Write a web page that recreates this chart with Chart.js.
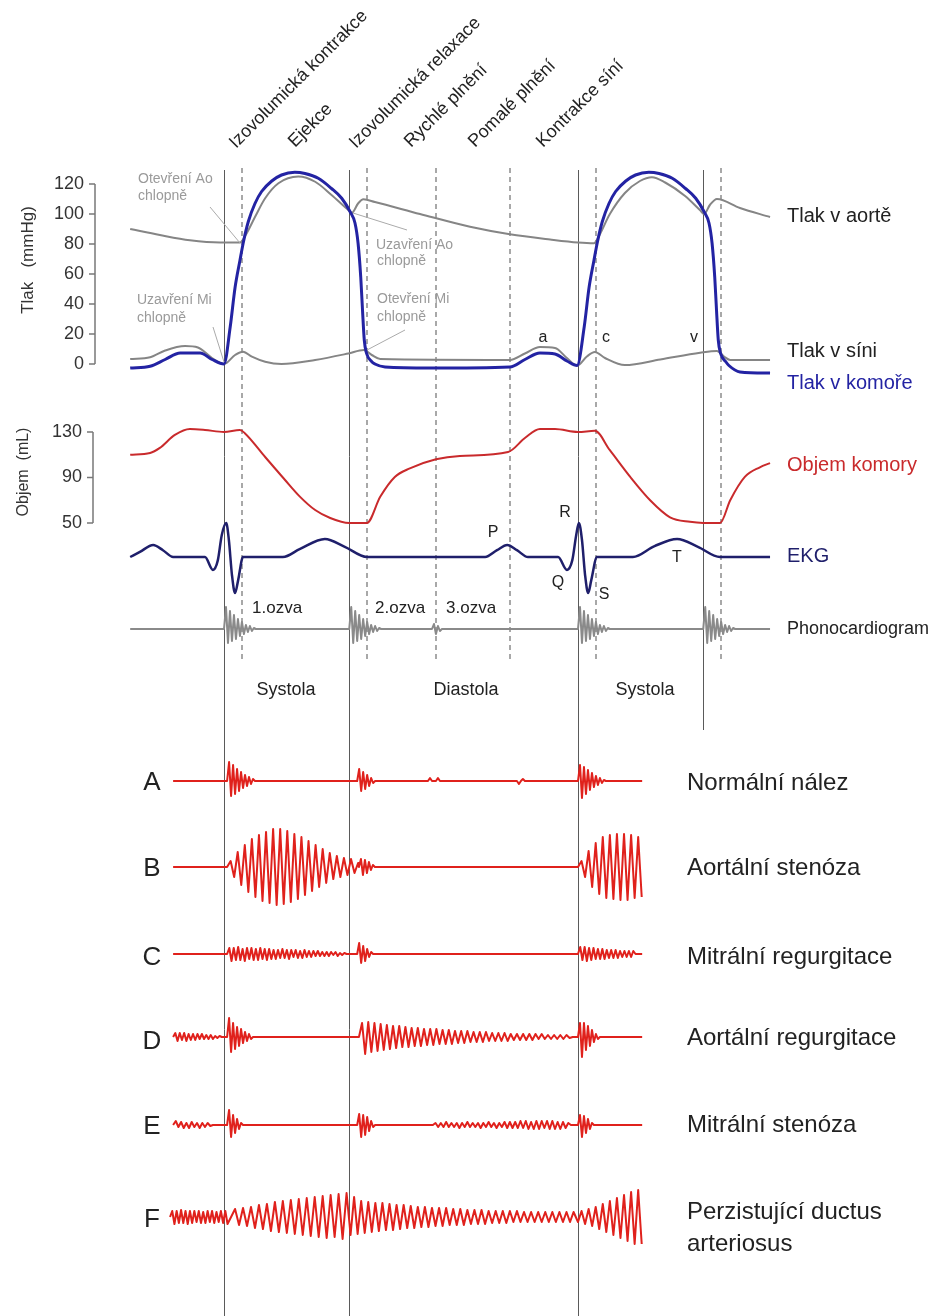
<!DOCTYPE html>
<html>
<head>
<meta charset="utf-8">
<script src="https://cdn.jsdelivr.net/npm/chart.js@4.4.1/dist/chart.umd.min.js"></script>
<style>
  html, body { margin: 0; padding: 0; background: #fff; }
  #wrap { width: 936px; height: 1316px; position: relative; }
</style>
</head>
<body>
<div id="wrap"><canvas id="wiggers"></canvas></div>
<script>
// Wiggersův diagram - čas v ms, t = 0 uzavření mitrální chlopně, cyklus 800 ms
const W = 936, H = 1316;
const FONT = '"Liberation Sans", Arial, sans-serif';

// svislé čáry fází (ms)
const solidLineTimes = [0, 283, 800, 1083];
const dashedLineTimes = [40, 323, 479, 646, 840, 1123];

// tlak v aortě (mmHg)
const aortaTime = [-212, -145, -77, -9, 36, 49, 70, 93, 123, 168, 206, 243, 281, 289, 303, 315, 341, 443, 556, 646, 737, 800, 836, 845, 872, 906, 940, 967, 997, 1042, 1076, 1085, 1098, 1114, 1166, 1234];
const aortaPressure = [90, 86, 82.5, 81, 81, 86, 98, 110.5, 120.5, 125, 121.5, 112.7, 102.7, 100.9, 107, 109.8, 108, 100, 91.5, 86.5, 83, 81, 80.5, 84, 100, 114, 122, 124.5, 121, 112, 102.5, 100, 106, 110, 104, 98];

// tlak v komoře (mmHg)
const ventricleTime = [-212, -167, -133, -99, -54, -27, 0, 14, 25, 36, 44, 55, 70, 85, 108, 130, 160, 183, 213, 243, 266, 285, 296, 303, 309, 313, 317, 322, 334, 341, 364, 466, 646, 680, 714, 748, 775, 798,
                       814, 825, 836, 844, 855, 870, 885, 908, 930, 960, 983, 1013, 1043, 1066, 1085, 1096, 1103, 1109, 1113, 1117, 1122, 1134, 1141, 1166, 1234];
const ventriclePressure = [-2.7, -1.5, 3, 7.3, 7.3, 3, 0, 24.7, 51, 69, 81.5, 95, 107, 115, 122, 126, 127.8, 127, 123.8, 117, 110.5, 101.5, 94, 80.5, 58, 36, 16, 7.3, 1.5, 0, -2, -2.7, -2, 3, 7.3, 6.7, 2, -1,
                           24.7, 51, 69, 81.5, 95, 107, 115, 122, 126, 127.8, 127, 123.8, 117, 110.5, 101.5, 94, 80.5, 58, 36, 16, 7.3, 1.5, -1, -5.3, -6];

// tlak v síni (mmHg)
const atriumTime = [-212, -167, -133, -88, -59, -27, 0, 25, 43, 63, 93, 130, 206, 281, 316, 334, 353, 646, 680, 714, 748, 775, 798, 820, 838, 861, 906, 986, 1076, 1114, 1130, 1144, 1234];
const atriumPressure = [3.3, 4.5, 9, 12, 11, 4, 0, 6, 8.2, 4.9, 1.5, 0, 2.7, 7, 9.3, 6, 3.3, 2.7, 7, 11.3, 10.7, 4, -1, 5, 8, 4, -0.7, 3, 7.5, 8.7, 5, 2.7, 2.7];

// objem komory (mL)
const volumeTime = [-212, -167, -145, -111, -77, -43, 0, 36, 47, 93, 138, 172, 206, 240, 283, 323, 353, 386, 420, 479, 533, 642, 680, 714, 748, 800, 838, 872, 918, 963, 1008, 1053, 1083, 1121, 1144, 1177, 1211, 1234];
const volumeMl = [110, 111.5, 116, 127.4, 132.6, 131.8, 130, 131.8, 129, 108, 87.8, 73, 61.4, 54.4, 50, 50, 73, 90.5, 98, 106, 109, 112.4, 124.7, 132.6, 132.6, 130, 131, 114, 90.5, 70, 55, 51, 50, 50, 70, 90.5, 99, 102.7];

// EKG (mV)
const ekgTime = [-212, -190, -160, -138, -115, -43, -25, -14, -5, 5, 11, 18, 25, 32, 43, 133, 172, 228, 273, 323, 590, 617, 640, 662, 687, 755, 775, 787, 796, 802, 809, 816, 823, 830, 843, 924, 973, 1024, 1071, 1121, 1234];
const ekgMv = [0, 0.15, 0.35, 0.2, 0, 0, -0.38, -0.1, 0.65, 1.0, 0.5, -0.53, -1.06, -0.68, 0, 0, 0.24, 0.53, 0.3, 0, 0, 0.2, 0.35, 0.2, 0, 0, -0.38, -0.1, 0.65, 1.0, 0.5, -0.53, -1.06, -0.68, 0, 0, 0.32, 0.53, 0.3, 0, 0];

// fonokardiogram: ozvy [začátek ms, krok ms, výchylky]
const phonoRange = [-212, 1234];
const phonoBursts = [
  [0, 4.5, [0, 22, -14, 18, -12, 14, -10, 10, -7, 7, -5, 4, -3, 3, -2, 1, 0]],
  [283, 4.5, [0, 22, -14, 18, -12, 14, -10, 10, -7, 7, -5, 4, -3, 3, -2, 1, 0]],
  [470, 4.5, [0, 5, -5, 3, -2, 0]],
  [800, 4.5, [0, 22, -14, 18, -12, 14, -10, 10, -7, 7, -5, 4, -3, 3, -2, 1, 0]],
  [1083, 4.5, [0, 22, -14, 18, -12, 14, -10, 10, -7, 7, -5, 4, -3, 3, -2, 1, 0]]
];

// šelesty A-F: [začátek ms, krok ms, výchylky]
const murmurA = [
  [7, 4.5, [0, 19, -15, 16, -13, 12, -10, 9, -7, 6, -5, 4, -3, 2, 0]],
  [301, 4.5, [0, 12, -10, 9, -8, 6, -5, 3, -2, 0]],
  [461, 4.5, [0, 3, 0, 0, 0, 3, 0]],
  [662, 4.5, [0, -3, 0, 2, 0]],
  [800, 4.5, [0, 16, -17, 14, -13, 11, -9, 8, -6, 5, -4, 3, -2, 1, 0]]
];
const murmurB = [
  [7, 8, [0, 6, -10, 15, -18, 22, -25, 28, -30, 32, -34, 35, -36, 38, -38, 38, -37, 36, -35, 33, -32, 30, -28, 26, -24, 22, -20, 18, -16, 14, -12, 11, -10, 9, -8, 8, -6, 4]],
  [305, 4.5, [0, 8, -8, 7, -6, 5, -3, 2, 0]],
  [800, 8, [0, 6, -10, 16, -20, 24, -27, 30, -31, 32, -32, 33, -33, 33, -33, 32, -31, 30, -30]]
];
const murmurC = [
  [7, 5, [0, 6, -7, 6, -6, 7, -6, 5, -7, 6, -5, 6, -6, 5, -6, 6, -5, 5, -6, 5, -5, 4, -5, 4, -4, 5, -4, 4, -5, 4, -3, 4, -4, 3, -4, 4, -3, 3, -3, 3, -2, 3, -2, 2, -2, 2, -2, 2, -1, 2, -2, 1, -1, 1, 0]],
  [301, 4.5, [0, 11, -9, 8, -7, 5, -3, 2, 0]],
  [800, 5, [0, 7, -6, 7, -7, 6, -6, 6, -5, 5, -5, 5, -5, 4, -4, 4, -4, 4, -4, 3, -3, 3, -3, 3, -3, 3, 0]]
];
const murmurD = [
  [-115, 5, [0, 4, -4, 4, -3, 4, -4, 3, -3, 3, -3, 3, -2, 3, -2, 2, -2, 2, -2, 1, -1, 1, 0]],
  [7, 4.5, [0, 19, -15, 14, -12, 10, -9, 8, -6, 5, -4, 3, -2, 0]],
  [305, 7, [0, 14, -17, 15, -15, 14, -14, 13, -13, 12, -12, 11, -11, 11, -10, 10, -10, 9, -9, 9, -9, 8, -8, 8, -8, 8, -7, 7,
            -7, 7, -7, 6, -6, 6, -6, 6, -5, 5, -5, 5, -5, 5, -4, 4, -4, 4, -4, 4, -4, 3, -3, 3, -3, 3, -3, 3,
            -3, 3, -2, 3, -2, 2, -2, 2, -2, 2, -2, 2, -1, 0]],
  [800, 4.5, [0, 14, -20, 14, -13, 11, -9, 7, -5, 3, -2, 0]]
];
const murmurE = [
  [-115, 6, [0, 4, -2, 3, -3, 2, -3, 3, -2, 2, -3, 2, -2, 2, -1, 0]],
  [7, 4.5, [0, 15, -12, 10, -8, 6, -4, 2, 0]],
  [301, 4.5, [0, 11, -12, 10, -10, 8, -6, 4, -2, 0]],
  [472, 6, [0, 2, -2, 2, -2, 3, -2, 2, -2, 2, -3, 2, -2, 3, -2, 2, -2, 2, -3, 2, -2, 3, -2, 2, -3, 2, -2,
            3, -3, 3, -3, 3, -3, 4, -3, 4, -4, 3, -4, 4, -4, 4, -3, 4, -4, 4, -4, 3, -4, 3, -3, 2, 0]],
  [800, 4.5, [0, 10, -12, 9, -8, 6, -4, 2, 0]]
];
const murmurF = [
  [-122, 5, [0, 6, -7, 6, -6, 7, -6, 6, -7, 6, -6, 6, -5, 6, -6, 5, -6, 6, -5, 6, -6, 5, -5, 6, -6, 6, -7]],
  [16, 9, [0, 8, -8, 9, -9, 10, -11, 12, -12, 13, -14, 15, -15, 16, -16, 17, -17, 18, -18, 19, -19, 20, -20, 21, -21, 22, -20, 23, -22, 24]],
  [286, 8, [-18, 20, -17, 16, -16, 15, -15, 14, -14, 14, -13, 13, -13, 12, -12, 12, -11, 11, -11, 10, -10, 10, -10, 9, -9, 9, -9, 9, -8, 8, -8, 8,
            -8, 7, -7, 7, -7, 7, -7, 6, -6, 6, -6, 6, -6, 6, -5, 6, -5, 5, -5, 5, -5, 5, -5, 5, -5, 5, -5, 5, -5, 5, -5, 5]],
  [800, 8, [-5, 6, -7, 8, -9, 10, -12, 13, -15, 16, -18, 19, -21, 22, -24, 25, -27, 27, -27]]
];
// rozsah stop šelestů (ms), null = bez dotažení na nulu
const murmurStart = [-115, -115, -115, -115, -115, -122];
const murmurEnd = [945, null, 945, 945, 945, null];

const pressureTicks = [0, 20, 40, 60, 80, 100, 120];
const volumeTicks = [50, 90, 130];

const phaseNames = ['Izovolumická kontrakce', 'Ejekce', 'Izovolumická relaxace', 'Rychlé plnění', 'Pomalé plnění', 'Kontrakce síní'];
const murmurLetters = ['A', 'B', 'C', 'D', 'E', 'F'];
const murmurNames = ['Normální nález', 'Aortální stenóza', 'Mitrální regurgitace', 'Aortální regurgitace', 'Mitrální stenóza', 'Perzistující ductus'];

function zip(ts, vs) {
    return ts.map((t, i) => ({ x: t, y: vs[i] }));
}

function burstPoints(bursts, from, to) {
    const pts = [];
    if (from !== null) pts.push({ x: from, y: 0 });
    bursts.forEach(([t0, step, vals]) => {
        vals.forEach((v, i) => pts.push({ x: t0 + i * step, y: v }));
    });
    if (to !== null) pts.push({ x: to, y: 0 });
    return pts;
}

// rozsah osy tak, aby hodnota v1 padla na pixel p1 a v2 na p2
function fitV(v1, p1, v2, p2) {
    const k = (v2 - v1) / (p1 - p2);
    return { min: v1 + (p1 - H) * k, max: v1 + p1 * k };
}
function fitH(v1, p1, v2, p2) {
    const k = (v2 - v1) / (p2 - p1);
    return { min: v1 - p1 * k, max: v1 + (W - p1) * k };
}

function curve(data, axis, color, width) {
    return {
        data: data, yAxisID: axis, borderColor: color, borderWidth: width,
        pointRadius: 0, fill: false, cubicInterpolationMode: 'monotone'
    };
}
function zigzag(data, axis, color, width) {
    return {
        data: data, yAxisID: axis, borderColor: color, borderWidth: width,
        pointRadius: 0, fill: false, tension: 0, borderJoinStyle: 'round'
    };
}

const murmurs = [murmurA, murmurB, murmurC, murmurD, murmurE, murmurF];
const murmurBase = [781, 867, 954, 1037, 1125, 1217];
const RED = '#e0211c';

const datasets = [
    curve(zip(ventricleTime, ventriclePressure), 'yP', '#2323a3', 3),
    curve(zip(aortaTime, aortaPressure), 'yP', '#858585', 2),
    curve(zip(atriumTime, atriumPressure), 'yP', '#858585', 2),
    curve(zip(volumeTime, volumeMl), 'yV', '#c92a2c', 2),
    curve(zip(ekgTime, ekgMv), 'yE', '#1f1f6b', 2.5),
    zigzag(burstPoints(phonoBursts, phonoRange[0], phonoRange[1]), 'yS', '#8a8a8a', 2)
];
murmurs.forEach((m, i) => {
    datasets.push(zigzag(burstPoints(m, murmurStart[i], murmurEnd[i]), 'yM' + i, RED, 2));
});

const scales = {
    x: Object.assign({ type: 'linear', display: false, bounds: 'data' }, fitH(0, 224, 800, 578)),
    yP: Object.assign({ type: 'linear', display: false, bounds: 'data' }, fitV(0, 364, 120, 184)),
    yV: Object.assign({ type: 'linear', display: false, bounds: 'data' }, fitV(50, 523, 130, 432)),
    yE: Object.assign({ type: 'linear', display: false, bounds: 'data' }, fitV(0, 557, 1, 523)),
    yS: Object.assign({ type: 'linear', display: false, bounds: 'data' }, fitV(0, 629, 1, 628))
};
murmurBase.forEach((b, i) => {
    scales['yM' + i] = Object.assign({ type: 'linear', display: false, bounds: 'data' }, fitV(0, b, 1, b - 1));
});

function txt(ctx, s, x, y, size, color, align, base) {
    ctx.font = size + 'px ' + FONT;
    ctx.fillStyle = color;
    ctx.textAlign = align || 'left';
    ctx.textBaseline = base || 'middle';
    ctx.fillText(s, x, y);
}
function seg(ctx, x1, y1, x2, y2) {
    ctx.beginPath(); ctx.moveTo(x1, y1); ctx.lineTo(x2, y2); ctx.stroke();
}

const decor = {
    id: 'decor',
    beforeDatasetsDraw(chart) {
        const ctx = chart.ctx, x = chart.scales.x;
        ctx.save();
        ctx.strokeStyle = '#5a5a5a';
        ctx.lineWidth = 1;
        solidLineTimes.forEach((t, i) => {
            const px = Math.round(x.getPixelForValue(t)) + 0.5;
            seg(ctx, px, 170, px, i === 3 ? 730 : H);
        });
        ctx.strokeStyle = '#8c8c8c';
        ctx.lineWidth = 1.5;
        ctx.setLineDash([5, 4]);
        dashedLineTimes.forEach(t => {
            const px = Math.round(x.getPixelForValue(t));
            seg(ctx, px, 168, px, 660);
        });
        ctx.restore();
    },
    afterDraw(chart) {
        const ctx = chart.ctx;
        const yP = chart.scales.yP, yV = chart.scales.yV;
        ctx.save();

        // osa tlaku
        ctx.strokeStyle = '#777';
        ctx.lineWidth = 1.5;
        seg(ctx, 95, yP.getPixelForValue(0), 95, yP.getPixelForValue(120));
        pressureTicks.forEach(v => {
            const py = yP.getPixelForValue(v);
            seg(ctx, 89, py, 95, py);
            txt(ctx, String(v), 84, py, 18, '#333', 'right');
        });
        // osa objemu
        seg(ctx, 93, yV.getPixelForValue(50), 93, yV.getPixelForValue(130));
        volumeTicks.forEach(v => {
            const py = yV.getPixelForValue(v);
            seg(ctx, 87, py, 93, py);
            txt(ctx, String(v), 82, py, 18, '#333', 'right');
        });

        // popisy os
        ctx.save();
        ctx.translate(28, 260); ctx.rotate(-Math.PI / 2);
        txt(ctx, 'Tlak   (mmHg)', 0, 0, 17, '#333', 'center');
        ctx.restore();
        ctx.save();
        ctx.translate(24, 472); ctx.rotate(-Math.PI / 2);
        txt(ctx, 'Objem  (mL)', 0, 0, 16, '#333', 'center');
        ctx.restore();

        // fáze (šikmo)
        const phaseAnchors = [[236, 149], [295, 148], [356, 149], [411, 148], [475, 148], [543, 148]];
        phaseNames.forEach((s, i) => {
            ctx.save();
            ctx.translate(phaseAnchors[i][0], phaseAnchors[i][1]);
            ctx.rotate(-Math.PI / 4);
            txt(ctx, s, 0, 0, 18, '#222', 'left', 'alphabetic');
            ctx.restore();
        });

        // chlopně
        const grey = '#9a9a9a';
        txt(ctx, 'Otevření Ao', 138, 179, 14, grey);
        txt(ctx, 'chlopně', 138, 196, 14, grey);
        txt(ctx, 'Uzavření Mi', 137, 300, 14, grey);
        txt(ctx, 'chlopně', 137, 318, 14, grey);
        txt(ctx, 'Uzavření Ao', 376, 245, 14, grey);
        txt(ctx, 'chlopně', 377, 261, 14, grey);
        txt(ctx, 'Otevření Mi', 377, 299, 14, grey);
        txt(ctx, 'chlopně', 377, 317, 14, grey);
        ctx.strokeStyle = '#aaa';
        ctx.lineWidth = 1;
        seg(ctx, 210, 207, 240, 243);
        seg(ctx, 213, 327, 224, 362);
        seg(ctx, 353, 213, 407, 230);
        seg(ctx, 367, 350, 405, 330);

        // vlny síňového tlaku
        txt(ctx, 'a', 543, 338, 16, '#222', 'center');
        txt(ctx, 'c', 606, 338, 16, '#222', 'center');
        txt(ctx, 'v', 694, 338, 16, '#222', 'center');

        // pravé popisky
        txt(ctx, 'Tlak v aortě', 787, 216, 20, '#222');
        txt(ctx, 'Tlak v síni', 787, 351, 20, '#222');
        txt(ctx, 'Tlak v komoře', 787, 383, 20, '#2323a3');
        txt(ctx, 'Objem komory', 787, 465, 20, '#c92a2c');
        txt(ctx, 'EKG', 787, 556, 20, '#1f1f6b');
        txt(ctx, 'Phonocardiogram', 787, 629, 18, '#222');

        // EKG vlny
        txt(ctx, 'P', 493, 533, 16, '#222', 'center');
        txt(ctx, 'R', 565, 513, 16, '#222', 'center');
        txt(ctx, 'Q', 558, 583, 16, '#222', 'center');
        txt(ctx, 'S', 604, 595, 16, '#222', 'center');
        txt(ctx, 'T', 677, 558, 16, '#222', 'center');

        // ozvy
        txt(ctx, '1.ozva', 252, 608, 17, '#222');
        txt(ctx, '2.ozva', 375, 608, 17, '#222');
        txt(ctx, '3.ozva', 446, 608, 17, '#222');

        txt(ctx, 'Systola', 286, 690, 18, '#222', 'center');
        txt(ctx, 'Diastola', 466, 690, 18, '#222', 'center');
        txt(ctx, 'Systola', 645, 690, 18, '#222', 'center');

        // šelesty
        const letterY = [783, 869, 958, 1042, 1127, 1220];
        const nameY = [783, 868, 957, 1038, 1125, 1212];
        murmurLetters.forEach((s, i) => {
            txt(ctx, s, 152, letterY[i], 26, '#222', 'center');
            txt(ctx, murmurNames[i], 687, nameY[i], 24, '#222');
        });
        txt(ctx, 'arteriosus', 687, 1244, 24, '#222');

        ctx.restore();
    }
};

new Chart(document.getElementById('wiggers'), {
    type: 'line',
    data: { datasets: datasets },
    options: {
        responsive: true,
        maintainAspectRatio: false,
        animation: false,
        devicePixelRatio: 1,
        events: [],
        layout: { padding: 0, autoPadding: false },
        plugins: { legend: { display: false }, tooltip: { enabled: false }, title: { display: false } },
        scales: scales
    },
    plugins: [decor]
});
</script>
</body>
</html>
